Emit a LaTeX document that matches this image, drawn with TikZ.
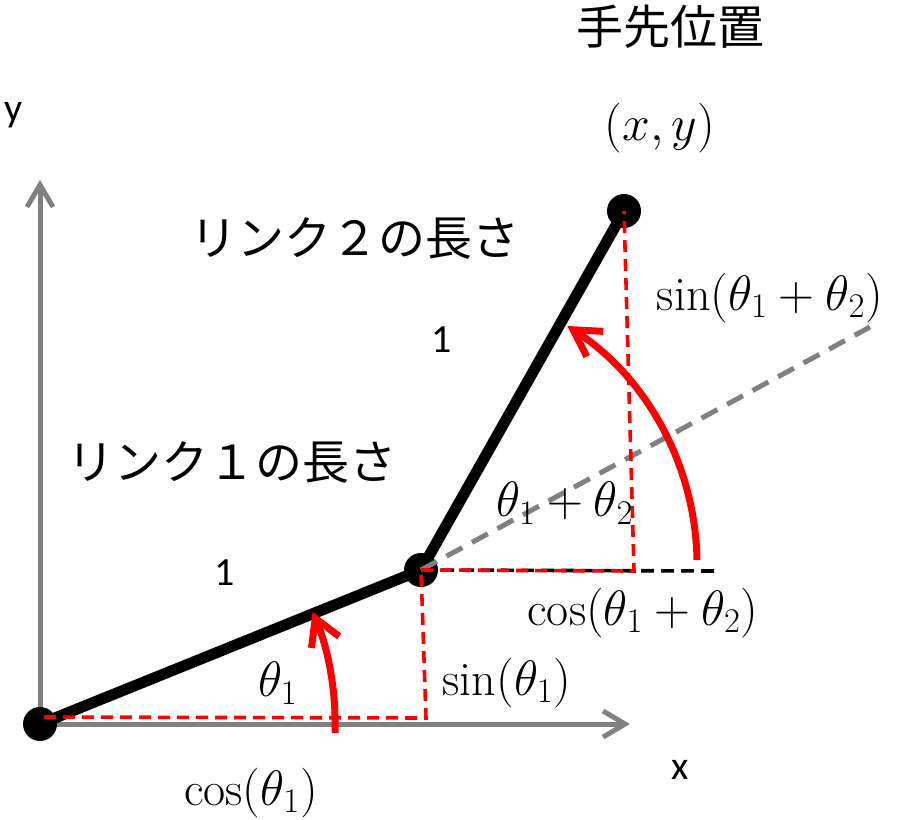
\documentclass[tikz,border=0pt]{standalone}
\usepackage{fontspec}
\newfontfamily\jpfont{Noto Sans CJK JP}
\newfontfamily\calfont{Carlito}
\usetikzlibrary{arrows.meta}

\begin{document}
\begin{tikzpicture}[x=0.5pt, y=-0.5pt,
	joint/.style={circle, fill=black, minimum size=17pt, inner sep=0pt},
	link/.style={line width=5.5pt},
	axis/.style={line width=2.5pt, gray, -{Straight Barb[length=11pt, width=13pt]}},
	proj/.style={red, line width=1.8pt, dash pattern=on 6pt off 3.5pt},
	guide/.style={gray, line width=2.5pt, dash pattern=on 9pt off 5.5pt},
	refline/.style={black, line width=1.8pt, dash pattern=on 6.5pt off 3.5pt},
	angarrow/.style={red, line width=3.5pt, -{Straight Barb[length=13pt, width=15pt]}},
	mathlbl/.style={font=\fontsize{24}{28}\selectfont, inner sep=0pt},
	jp/.style={font=\jpfont\fontsize{23.5}{28}\selectfont, inner sep=0pt},
	axlbl/.style={font=\calfont\fontsize{20}{24}\selectfont, inner sep=0pt}]
	\useasboundingbox (0,0) rectangle (897,819);
	% axes
	\coordinate (O) at (40,724);
	\coordinate (xend) at (630,724);
	\coordinate (yend) at (40,180);
	\draw[axis] (O) -- (xend);
	\draw[axis] (O) -- (yend);
	% joints and links
	\node[joint] (base) at (O) {};
	\node[joint] (elbow) at (421,570) {};
	\node[joint] (hand) at (624,211) {};
	\draw[link] (base.center) -- (elbow.center);
	\draw[link] (elbow.center) -- (hand.center);
	% helper lines
	\coordinate (ext) at (870,327);
	\coordinate (hx) at (718,571);
	\coordinate (p0) at (44,717);
	\coordinate (c1) at (426,718);
	\coordinate (c2) at (634,571);
	\draw[guide] (elbow.center) -- (ext);
	\draw[refline] (elbow.center) -- (hx);
	\draw[proj] (p0) -- (c1) -- (elbow.center);
	\draw[proj] (elbow.center) -- (c2) -- (hand.center);
	% joint angles
	\draw[angarrow] (335,733) arc[start angle=1.7, end angle=-22.6, radius=293];
	\draw[angarrow] (697,560) arc[start angle=-1, end angle=-57, radius=285];
	% labels
	\node[jp] (title) at (670,27) {手先位置};
	\node[mathlbl] (pos) at (660,128) {$(x,y)$};
	\node[axlbl] (ylbl) at (14,115) {y};
	\node[axlbl] (xlbl) at (680,770) {x};
	\node[jp] (len2) at (355,238) {リンク２の長さ};
	\node[jp] (len1) at (232,462) {リンク１の長さ};
	\node[axlbl] (one2) at (442,340) {1};
	\node[axlbl] (one1) at (225,573) {1};
	\node[mathlbl] (th1) at (278,683) {$\theta_1$};
	\node[mathlbl] (sin1) at (507,683) {$\sin(\theta_1)$};
	\node[mathlbl] (cos1) at (251,793) {$\cos(\theta_1)$};
	\node[mathlbl] (th12) at (565,503) {$\theta_1+\theta_2$};
	\node[mathlbl] (cos12) at (643,613) {$\cos(\theta_1+\theta_2)$};
	\node[mathlbl] (sin12) at (770,298) {$\sin(\theta_1+\theta_2)$};
\end{tikzpicture}
\end{document}
